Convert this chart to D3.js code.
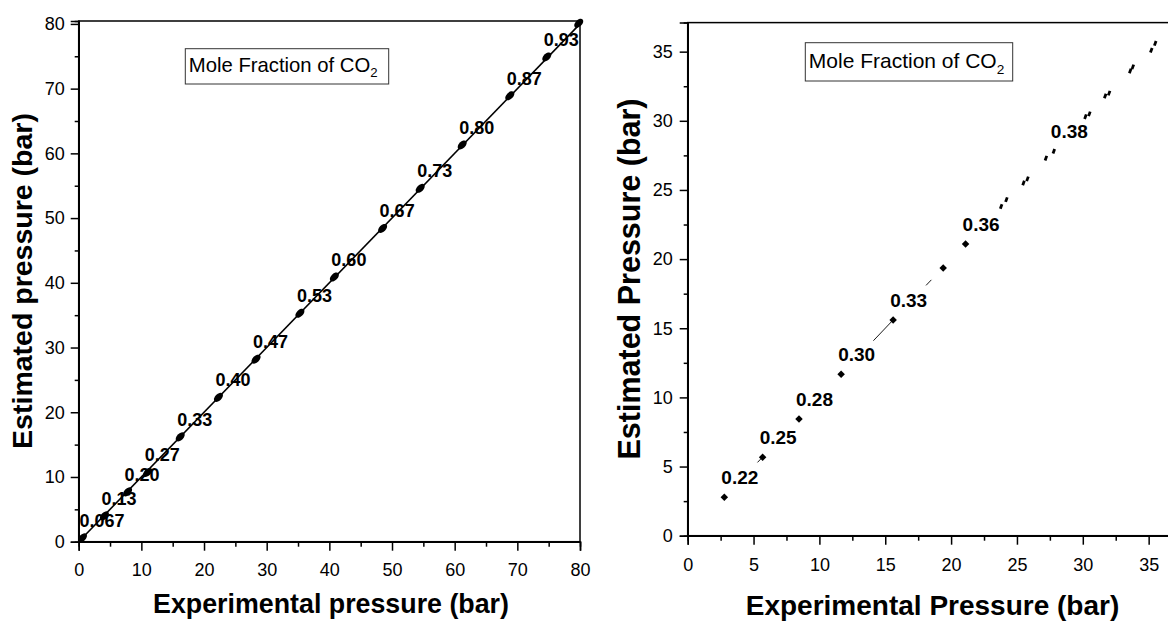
<!DOCTYPE html>
<html><head><meta charset="utf-8">
<script src="https://cdn.jsdelivr.net/npm/d3@7"></script>
<style>
body{margin:0;background:#fff;}
svg{display:block;font-family:"Liberation Sans",Arial,sans-serif;}
</style></head>
<body><svg id="c" width="1168" height="621"></svg>
<script>
// ---------- data ----------
const leftExp    = [0.6, 4.1, 7.8, 11.0, 16.2, 22.3, 28.3, 35.3, 40.8, 48.5, 54.5, 61.2, 68.8, 74.7, 79.8];
const leftEst    = [0.6, 4.0, 7.7, 10.7, 16.2, 22.3, 28.2, 35.3, 40.9, 48.4, 54.6, 61.3, 68.9, 74.9, 80.1];
const leftLabels = ["0.067","0.13","0.20","0.27","0.33","0.40","0.47","0.53","0.60","0.67","0.73","0.80","0.87","0.93",""];
const leftParity = [0, 80];
const leftMajor  = [0,10,20,30,40,50,60,70,80];
const leftMinor  = [5,15,25,35,45,55,65,75];

const rightExp    = [2.78, 5.69, 8.45, 11.65, 15.6, 19.4, 21.1];
const rightEst    = [2.78, 5.67, 8.44, 11.67, 15.6, 19.35, 21.1];
const rightLabels = ["0.22","0.25","0.28","0.30","0.33","","0.36"];
const rightTailExp    = [23.8, 24.2, 25.5, 25.8, 27.2, 27.8, 30.2, 30.5, 31.7, 32.0, 33.6, 33.8, 35.2, 35.5];
const rightTailEst    = [23.8, 24.3, 25.5, 25.8, 27.3, 27.8, 30.3, 30.5, 31.8, 32.0, 33.6, 33.9, 35.1, 35.6];
const rightTailLabels = ["","","","","","0.38","","","","","","","",""];
const rightSegFrom = [5.3, 14.1, 18.1];
const rightSegTo   = [5.7, 15.6, 18.5];
const rightMajor = [0,5,10,15,20,25,30,35];
const rightMinor = [2.5,7.5,12.5,17.5,22.5,27.5,32.5];

const svg = d3.select("#c");

function panel(o){
  const g = svg.append("g");
  const x = d3.scaleLinear().domain(o.xd).range(o.xr);
  const y = d3.scaleLinear().domain(o.yd).range(o.yr);
  g.append("rect").attr("x",o.xr[0]).attr("y",o.yr[1])
   .attr("width",o.xr[1]-o.xr[0]).attr("height",o.yr[0]-o.yr[1])
   .attr("fill","none").attr("stroke","#000").attr("stroke-width",1.5);
  g.append("g").attr("transform",`translate(0,${o.yr[0]})`)
    .call(d3.axisBottom(x).tickValues(o.major).tickSize(9).tickPadding(o.xpad).tickFormat(d3.format("d")));
  g.append("g").attr("transform",`translate(0,${o.yr[0]})`)
    .call(d3.axisBottom(x).tickValues(o.minor).tickSize(5).tickFormat(""));
  g.append("g").attr("transform",`translate(${o.xr[0]},0)`)
    .call(d3.axisLeft(y).tickValues(o.major).tickSize(8).tickPadding(o.ypad).tickFormat(d3.format("d")));
  g.append("g").attr("transform",`translate(${o.xr[0]},0)`)
    .call(d3.axisLeft(y).tickValues(o.minor).tickSize(4).tickFormat(""));
  g.selectAll(".domain").attr("stroke","#000").attr("stroke-width",1.5);
  g.selectAll(".tick line").attr("stroke","#000").attr("stroke-width",1.5);
  g.selectAll(".tick text").attr("font-size",18).attr("fill","#000")
   .attr("font-family","'Liberation Sans',Arial,sans-serif");
  g.append("text").attr("x",o.xtx).attr("y",o.xty).attr("text-anchor","middle")
   .attr("font-weight","bold").attr("font-size",o.xts).text(o.xtitle);
  g.append("text").attr("transform",`translate(${o.ytx},${o.yty}) rotate(-90)`)
   .attr("text-anchor","middle").attr("font-weight","bold").attr("font-size",o.yts).text(o.ytitle);
  g.append("rect").attr("x",o.lx).attr("y",o.ly).attr("width",o.lw).attr("height",o.lh)
   .attr("fill","#fff").attr("stroke","#333").attr("stroke-width",1);
  const lt = g.append("text").attr("x",o.lx+3.5).attr("y",o.lby).attr("font-size",o.lfs);
  lt.append("tspan").text("Mole Fraction of CO");
  lt.append("tspan").attr("font-size",o.lfs*0.65).attr("dy",o.lfs*0.28).text("2");
  return {g,x,y};
}

// ---------- left panel ----------
const L = panel({xd:[0,80], xr:[78.7,580], yd:[0,80.45], yr:[541.7,21],
  major:leftMajor, minor:leftMinor, xpad:13, ypad:6,
  xtitle:"Experimental pressure (bar)", xtx:331, xty:613, xts:26.8,
  ytitle:"Estimated pressure (bar)", ytx:32, yty:281, yts:28.5,
  lx:185.3, ly:48.7, lw:203.4, lh:35.3, lby:71.7, lfs:20.3});

L.g.append("path").datum(leftParity)
  .attr("d", d3.line().x(d=>L.x(d)).y(d=>L.y(d)))
  .attr("stroke","#000").attr("stroke-width",1.6).attr("fill","none");
const lpts = leftExp.map((v,i)=>({x:v,y:leftEst[i],t:leftLabels[i]}));
L.g.selectAll("ellipse.pt").data(lpts).join("ellipse")
  .attr("transform",d=>`translate(${L.x(d.x)},${L.y(d.y)}) rotate(-45)`)
  .attr("rx",5.5).attr("ry",3.3).attr("fill","#000");
L.g.selectAll("text.lab").data(lpts).join("text").attr("class","lab")
  .attr("x",d=>L.x(d.x)-3).attr("y",d=>L.y(d.y)-11)
  .attr("font-weight","bold").attr("font-size",18).text(d=>d.t);

// ---------- right panel ----------
const R = panel({xd:[0,37], xr:[687.7,687.7+37*13.17], yd:[0,37.1], yr:[535.7,535.7-37.1*13.83],
  major:rightMajor, minor:rightMinor, xpad:14, ypad:7,
  xtitle:"Experimental Pressure (bar)", xtx:932.5, xty:615, xts:28,
  ytitle:"Estimated Pressure (bar)", ytx:640, yty:279, yts:30.5,
  lx:805.3, ly:42.7, lw:207.4, lh:38.3, lby:67.7, lfs:21});

R.g.selectAll("line.seg").data(rightSegFrom.map((v,i)=>[v,rightSegTo[i]])).join("line")
  .attr("x1",d=>R.x(d[0])).attr("y1",d=>R.y(d[0]))
  .attr("x2",d=>R.x(d[1])).attr("y2",d=>R.y(d[1]))
  .attr("stroke","#000").attr("stroke-width",0.9);
const rpts = rightExp.map((v,i)=>({x:v,y:rightEst[i],t:rightLabels[i]}));
R.g.selectAll("path.pt").data(rpts).join("path")
  .attr("transform",d=>`translate(${R.x(d.x)},${R.y(d.y)}) rotate(45)`)
  .attr("d", d3.symbol(d3.symbolSquare, 28)).attr("fill","#000");
const tpts = rightTailExp.map((v,i)=>({x:v,y:rightTailEst[i],t:rightTailLabels[i]}));
R.g.selectAll("rect.tail").data(tpts).join("rect")
  .attr("transform",d=>`translate(${R.x(d.x)},${R.y(d.y)}) rotate(20)`)
  .attr("x",-1.4).attr("y",-2.4).attr("width",2.8).attr("height",4.8).attr("fill","#000");
R.g.selectAll("text.lab").data(rpts.concat(tpts)).join("text").attr("class","lab")
  .attr("x",d=>R.x(d.x)-3).attr("y",d=>R.y(d.y)-13)
  .attr("font-weight","bold").attr("font-size",19).text(d=>d.t);
</script></body></html>
